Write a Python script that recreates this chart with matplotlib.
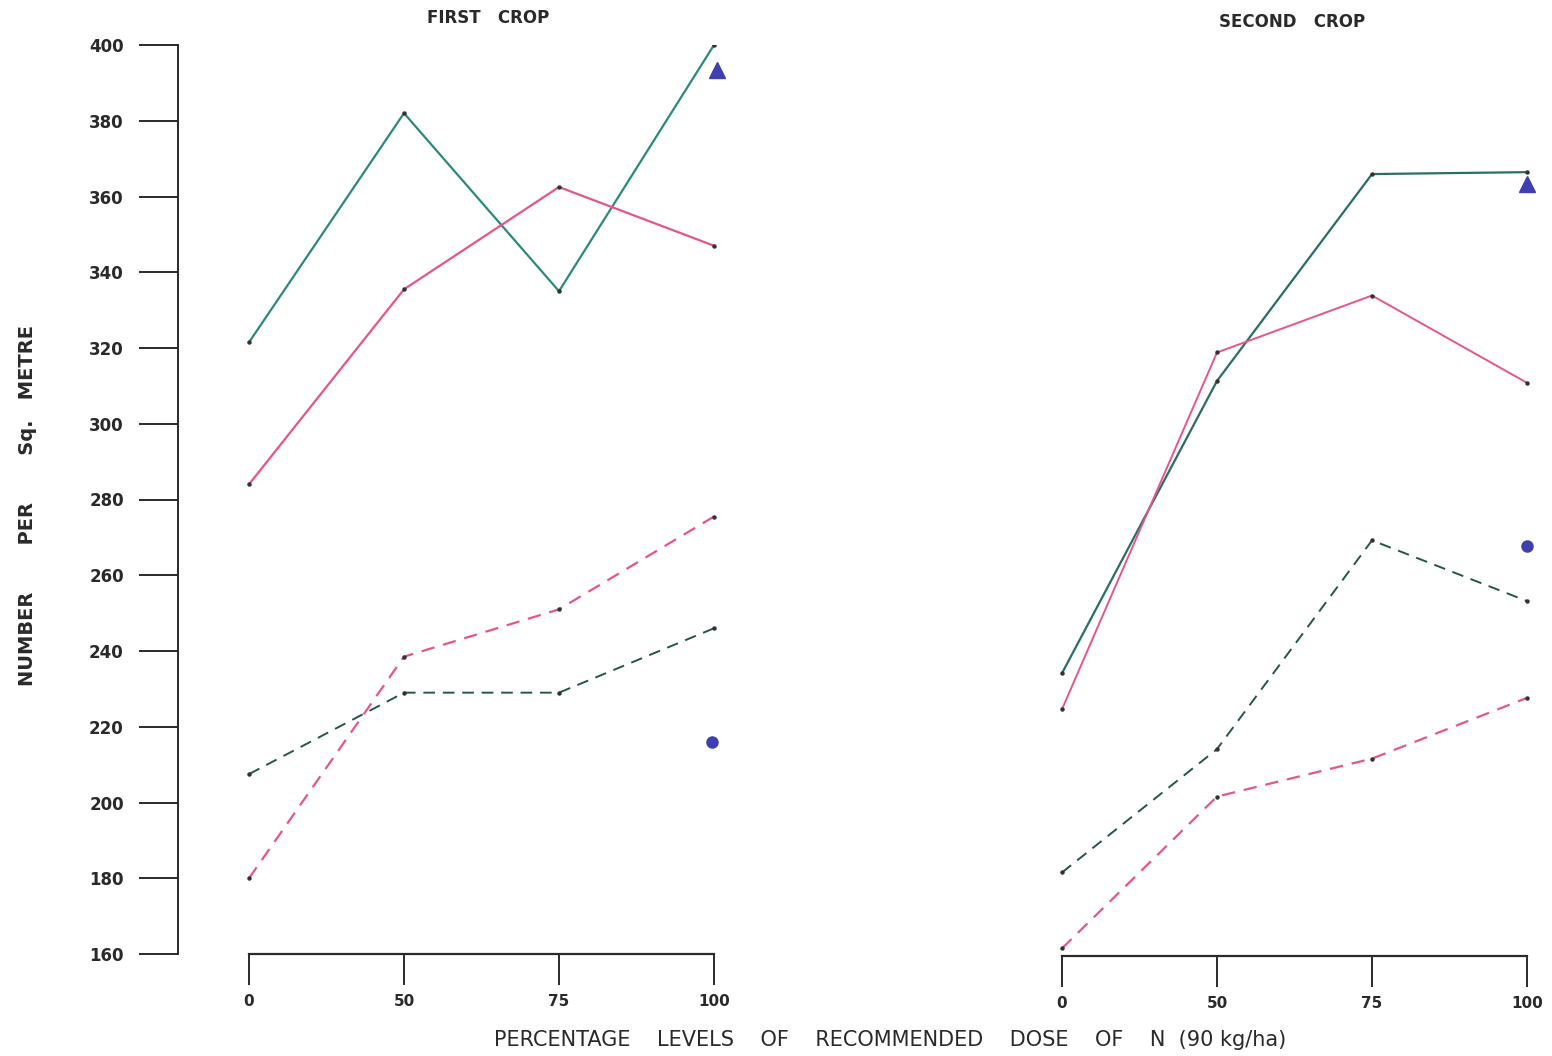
import matplotlib.pyplot as plt

# N dose levels (% of recommended 90 kg/ha)
levels = ['0', '50', '75', '100']
pos = [0, 1, 2, 3]

# first crop
first_teal_solid = [321.5, 382, 335, 400]
first_pink_solid = [284, 335.5, 362.5, 347]
first_pink_dash = [180, 238.5, 251, 275.5]
first_teal_dash = [207.5, 229, 229, 246]
first_triangle = 393.5
first_circle = 216

# second crop
second_teal_solid = [234.5, 311.5, 366, 366.5]
second_pink_solid = [225, 319, 334, 311]
second_teal_dash = [182, 214.5, 269.5, 253.5]
second_pink_dash = [162, 202, 212, 228]
second_triangle = 363.5
second_circle = 268

yticks = [160, 180, 200, 220, 240, 260, 280, 300, 320, 340, 360, 380, 400]

teal = '#2b8a7c'
teal_dark = '#24564c'
pink = '#e8548c'
blue = '#3f3fb0'
ink = '#2a2a2a'

W, H = 1552, 1056
fig = plt.figure(figsize=(W / 100, H / 100), dpi=100)
fig.patch.set_facecolor('white')


def px_axes(x0, x1, ytop, ybot):
    return fig.add_axes([x0 / W, 1 - ybot / H, (x1 - x0) / W, (ybot - ytop) / H])


ax1 = px_axes(178, 730, 45, 954)
ax2 = px_axes(1040, 1545, 45, 956)

step = 155.0
ax1.set_xlim(-(249 - 178) / step, 3 + (730 - 714) / step)
ax2.set_xlim(-(1062 - 1040) / step, 3 + (1545 - 1527) / step)

for ax in (ax1, ax2):
    ax.set_ylim(160, 400)
    ax.set_facecolor('none')
    ax.spines['top'].set_visible(False)
    ax.spines['right'].set_visible(False)
    ax.spines['bottom'].set_bounds(0, 3)
    ax.spines['bottom'].set_linewidth(1.6)
    ax.spines['bottom'].set_color(ink)
    ax.set_xticks(pos)
    ax.set_xticklabels(levels)
    ax.tick_params(axis='x', direction='out', length=22, width=1.4, color=ink,
                   pad=7, labelsize=11, labelcolor=ink)

ax1.spines['left'].set_bounds(160, 400)
ax1.spines['left'].set_linewidth(1.4)
ax1.spines['left'].set_color(ink)
ax1.set_yticks(yticks)
ax1.tick_params(axis='y', direction='out', length=28, width=1.4, color=ink,
                pad=11, labelsize=12, labelcolor=ink)
for lab in ax1.get_yticklabels():
    lab.set_fontweight('bold')

ax2.spines['left'].set_visible(False)
ax2.set_yticks([])

for lab in ax1.get_xticklabels() + ax2.get_xticklabels():
    lab.set_fontweight('bold')

dot = dict(marker='o', markersize=2.2, markerfacecolor='#333333', markeredgecolor='#333333')

ax1.plot(pos, first_teal_solid, color=teal, lw=1.6, **dot)
ax1.plot(pos, first_pink_solid, color=pink, lw=1.6, **dot)
ax1.plot(pos, first_pink_dash, color=pink, lw=1.6, ls=(0, (6, 4)), **dot)
ax1.plot(pos, first_teal_dash, color=teal_dark, lw=1.4, ls=(0, (6, 4)), **dot)
ax1.plot([3.02], [first_triangle], marker='^', markersize=12, color=blue, ls='none', clip_on=False)
ax1.plot([2.99], [first_circle], marker='o', markersize=8, color=blue, ls='none')

ax2.plot(pos, second_teal_solid, color='#2a6e64', lw=1.6, **dot)
ax2.plot(pos, second_pink_solid, color=pink, lw=1.4, **dot)
ax2.plot(pos, second_teal_dash, color=teal_dark, lw=1.4, ls=(0, (6, 4)), **dot)
ax2.plot(pos, second_pink_dash, color=pink, lw=1.6, ls=(0, (6, 4)), **dot)
ax2.plot([3.0], [second_triangle], marker='^', markersize=12, color=blue, ls='none', clip_on=False)
ax2.plot([3.0], [second_circle], marker='o', markersize=8, color=blue, ls='none', clip_on=False)

fig.text(488 / W, 1 - 18 / H, 'FIRST   CROP', ha='center', va='center',
         fontsize=12, fontweight='bold', color=ink)
fig.text(1292 / W, 1 - 22 / H, 'SECOND   CROP', ha='center', va='center',
         fontsize=12, fontweight='bold', color=ink)
fig.text(890 / W, 1 - 1040 / H,
         'PERCENTAGE    LEVELS    OF    RECOMMENDED    DOSE    OF    N  (90 kg/ha)',
         ha='center', va='center', fontsize=15, color=ink)
fig.text(28 / W, 1 - 505 / H, 'NUMBER       PER       Sq.   METRE', ha='center', va='center',
         rotation=90, fontsize=14, fontweight='bold', color=ink)

fig.savefig('out.png', dpi=100, facecolor='white')
